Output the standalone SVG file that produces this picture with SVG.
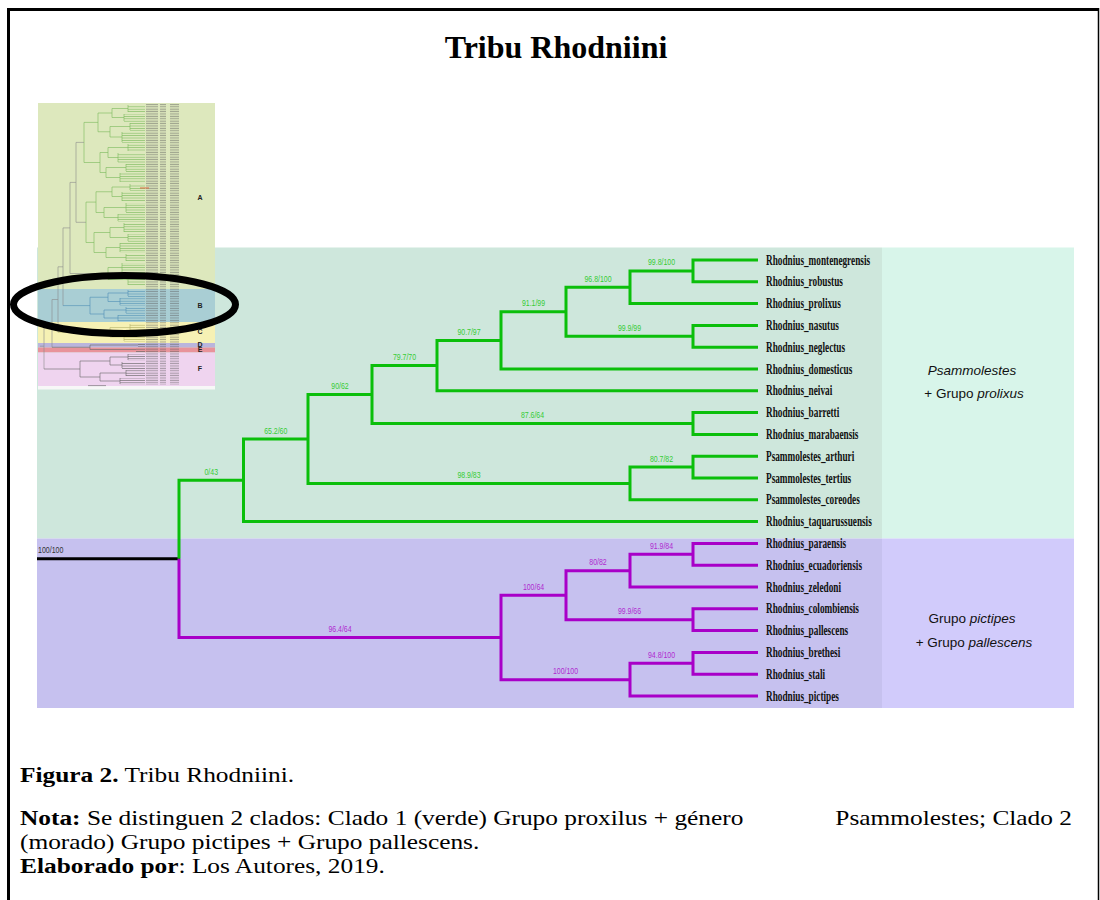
<svg xmlns="http://www.w3.org/2000/svg" width="1100" height="900" viewBox="0 0 1100 900">
  <style>
    .serif { font-family: "Liberation Serif", "Times New Roman", serif; }
    .sans { font-family: "Liberation Sans", Arial, sans-serif; }
    .br { fill: none; stroke-width: 3; stroke-linecap: butt; stroke-linejoin: miter; }
    .green { stroke: #0bbf0b; }
    .purple { stroke: #a800c8; }
    .root { stroke: #000; }
    .sup { font-family: "Liberation Sans", Arial, sans-serif; font-size: 9.5px; text-anchor: middle; }
    .sg { fill: #35cc35; }
    .sp { fill: #b02ad0; }
    .taxon { font-family: "Liberation Serif", "Times New Roman", serif; font-weight: bold; font-size: 14px; fill: #111; }
    .mini { fill: none; stroke-width: 0.6; }
    .mA { stroke: #78b85a; }
    .mB { stroke: #4f8fb5; }
    .mC { stroke: #b5b36a; }
    .mK { stroke: #666; }
    .mG { stroke: #8c8c8c; }
    .side { font-family: "Liberation Sans", Arial, sans-serif; font-size: 13.5px; text-anchor: middle; fill: #111; }
  </style>
  <defs>
    <pattern id="combA" width="4" height="2.4" patternUnits="userSpaceOnUse"><rect y="0.9" width="4" height="0.6" fill="#7dbb5e"/></pattern>
    <pattern id="combB" width="4" height="2.4" patternUnits="userSpaceOnUse"><rect y="0.9" width="4" height="0.6" fill="#5a98b8"/></pattern>
    <pattern id="combC" width="4" height="2.4" patternUnits="userSpaceOnUse"><rect y="0.9" width="4" height="0.6" fill="#b0ae60"/></pattern>
    <pattern id="combK" width="4" height="2.4" patternUnits="userSpaceOnUse"><rect y="0.9" width="4" height="0.6" fill="#666"/></pattern>
    <pattern id="lbl" width="34" height="2.4" patternUnits="userSpaceOnUse"><rect x="0" y="0.6" width="22" height="1.1" fill="#5a5a5a"/><rect x="24" y="0.6" width="6" height="1.1" fill="#5a5a5a"/></pattern>
  </defs>

  <rect width="1100" height="900" fill="#fff"/>

  <!-- title -->
  <text class="serif" x="556" y="58" font-size="32" font-weight="bold" text-anchor="middle">Tribu Rhodniini</text>

  <!-- clade backgrounds -->
  <g id="clade-backgrounds">
    <rect x="37" y="247.5" width="845" height="291" fill="#cee7dc"/>
    <rect x="882" y="247.5" width="192" height="291" fill="#d8f5ea"/>
    <rect x="37" y="538.5" width="845" height="169.5" fill="#c6c1ef"/>
    <rect x="882" y="538.5" width="192" height="169.5" fill="#d1cbfb"/>
  </g>

  <!-- overview tree of the whole family, clade bands A-F -->
  <g id="overview-tree">
    <rect x="38" y="103" width="177" height="186" fill="#dde8bd"/>
    <rect x="38" y="289" width="177" height="33" fill="#a9ced4"/>
    <rect x="38" y="322" width="177" height="21" fill="#f6f1b4"/>
    <rect x="38" y="343" width="177" height="4.5" fill="#bab5dc"/>
    <rect x="38" y="347.5" width="177" height="5" fill="#e8939a"/>
    <rect x="38" y="352.5" width="177" height="33.5" fill="#efd4ef"/>
    <rect x="38" y="386" width="177" height="3.5" fill="#f7f7f7"/>

    <!-- tip labels -->
    <rect x="146" y="104" width="33" height="281" fill="url(#lbl)" opacity="0.5"/>

    <!-- tip combs -->
    <g>
      <rect x="128" y="105" width="17" height="8" fill="url(#combA)"/>
      <rect x="124" y="114" width="21" height="8" fill="url(#combA)"/>
      <rect x="130" y="123" width="15" height="8" fill="url(#combA)"/>
      <rect x="122" y="132" width="23" height="11" fill="url(#combA)"/>
      <rect x="128" y="144" width="17" height="8" fill="url(#combA)"/>
      <rect x="118" y="153" width="27" height="10" fill="url(#combA)"/>
      <rect x="126" y="164" width="19" height="8" fill="url(#combA)"/>
      <rect x="120" y="173" width="25" height="10" fill="url(#combA)"/>
      <rect x="130" y="184" width="15" height="7" fill="url(#combA)"/>
      <rect x="122" y="192" width="23" height="10" fill="url(#combA)"/>
      <rect x="126" y="203" width="19" height="10" fill="url(#combA)"/>
      <rect x="118" y="214" width="27" height="8" fill="url(#combA)"/>
      <rect x="124" y="223" width="21" height="10" fill="url(#combA)"/>
      <rect x="128" y="234" width="17" height="8" fill="url(#combA)"/>
      <rect x="120" y="243" width="25" height="10" fill="url(#combA)"/>
      <rect x="126" y="254" width="19" height="8" fill="url(#combA)"/>
      <rect x="122" y="263" width="23" height="10" fill="url(#combA)"/>
      <rect x="128" y="274" width="17" height="12" fill="url(#combA)"/>
      <rect x="128" y="290" width="17" height="7" fill="url(#combB)"/>
      <rect x="120" y="298" width="25" height="8" fill="url(#combB)"/>
      <rect x="126" y="307" width="19" height="7" fill="url(#combB)"/>
      <rect x="118" y="315" width="27" height="7" fill="url(#combB)"/>
      <rect x="130" y="324" width="15" height="8" fill="url(#combC)"/>
      <rect x="124" y="333" width="21" height="9" fill="url(#combC)"/>
      <rect x="138" y="343.5" width="7" height="3.5" fill="url(#combK)"/>
      <rect x="136" y="348" width="9" height="4" fill="url(#combK)"/>
      <rect x="128" y="354" width="17" height="7" fill="url(#combK)"/>
      <rect x="122" y="362" width="23" height="7" fill="url(#combK)"/>
      <rect x="126" y="370" width="19" height="7" fill="url(#combK)"/>
      <rect x="120" y="378" width="25" height="7" fill="url(#combK)"/>
    </g>

    <!-- internal branches -->
    <path class="mini mA" d="M128 105V112M124 114V121M130 123V130M122 132V142M128 144V151M118 153V162M126 164V171M120 173V182M130 184V190M122 192V201M126 203V212M118 214V221M124 223V232M128 234V241M120 243V252M126 254V261M122 263V272M128 274V285
      M112 108.5V117.5M112 108.5H128M112 117.5H124
      M110 126.5V137M110 126.5H130M110 137H122
      M108 147.5V157.5M108 147.5H128M108 157.5H118
      M106 167.5V177.5M106 167.5H126M106 177.5H120
      M112 187V196.5M112 187H130M112 196.5H122
      M104 207.5V217.5M104 207.5H126M104 217.5H118
      M110 227.5V237.5M110 227.5H124M110 237.5H128
      M106 247.5V257.5M106 247.5H120M106 257.5H126
      M108 267.5V279.5M108 267.5H122M108 279.5H128
      M98 113V131.75M98 113H112M98 131.75H110
      M100 152.5V172.5M100 152.5H108M100 172.5H106
      M96 191.75V212.5M96 191.75H112M96 212.5H104
      M94 232.5V252.5M94 232.5H110M94 252.5H106
      M84 122.4V162.5M84 122.4H98M84 162.5H100
      M86 202.1V242.5M86 202.1H96M86 242.5H94"/>
    <path class="mini mG" d="M76 142.4V222.3M76 142.4H84M76 222.3H86
      M70 182.4V273.5M70 182.4H76M70 273.5H108
      M63 227.9V305.6M63 227.9H70
      M58 266.8V332.25M58 266.8H63
      M52 299.5V347.25M52 299.5H58
      M44 323.4V369M44 323.4H52M40 346.2H44"/>
    <path class="mini mB" d="M128 290V296M120 298V305M126 307V313M118 315V321
      M108 293V301.5M108 293H128M108 301.5H120
      M104 310V318M104 310H126M104 318H118
      M90 297.25V314M90 297.25H108M90 314H104M63 305.6H90"/>
    <path class="mini mC" d="M130 324V331M124 333V341M110 327.5V337M110 327.5H130M110 337H124M58 332.25H110"/>
    <path class="mini mK" d="M90 345V349.5M90 345H138M90 349.5H136M52 347.25H90
      M128 354V360M122 362V368M126 370V376M120 378V384
      M110 357V365M110 357H128M110 365H122
      M100 373V381M100 373H126M100 381H120
      M80 361V377M80 361H110M80 377H100M44 369H80
      M88 385.6H106"/>
    <path d="M140 188H149" stroke="#e0603a" stroke-width="0.9" fill="none"/>

    <g class="sans" font-size="7" font-weight="bold" fill="#222" text-anchor="middle">
      <text x="200" y="199.5">A</text>
      <text x="200" y="307.5">B</text>
      <text x="200" y="333.5">C</text>
      <text x="200" y="347">D</text>
      <text x="200" y="352">E</text>
      <text x="200" y="370.5">F</text>
    </g>

    <!-- highlight of clade B -->
    <ellipse cx="124.5" cy="304.5" rx="111" ry="29" fill="none" stroke="#000" stroke-width="7"/>
  </g>

  <!-- branches of the Rhodniini tree -->
  <g id="branches">
    <path class="br root" d="M37 558.86H180"/>
    <path class="br green" d="M179 558.86V480.3H243.5
      M243.5 480.3V439H308
      M243.5 480.3V521.6H758
      M308 439V394.55H372
      M308 439V483.45H630
      M372 394.55V365.6H437
      M372 394.55V423.5H693
      M437 365.6V340.39H501
      M437 365.6V390.8H758
      M501 340.39V311.78H566
      M501 340.39V369H758
      M566 311.78V287.25H630
      M566 311.78V336.3H693
      M630 287.25V270.9H693
      M630 287.25V303.6H758
      M693 270.9V260H758
      M693 270.9V281.8H758
      M693 336.3V325.4H758
      M693 336.3V347.2H758
      M693 423.5V412.6H758
      M693 423.5V434.4H758
      M630 483.45V467.1H693
      M630 483.45V499.8H758
      M693 467.1V456.2H758
      M693 467.1V478H758"/>
    <path class="br purple" d="M179 558.86V637.41H501
      M501 637.41V595.18H566
      M501 637.41V679.65H630
      M566 595.18V570.65H630
      M566 595.18V619.7H693
      M630 570.65V554.3H693
      M630 570.65V587H758
      M693 554.3V543.4H758
      M693 554.3V565.2H758
      M693 619.7V608.8H758
      M693 619.7V630.6H758
      M630 679.65V663.3H693
      M630 679.65V696H758
      M693 663.3V652.4H758
      M693 663.3V674.2H758"/>
  </g>

  <!-- support values (bootstrap / aLRT) -->
  <g id="support-values">
    <text class="sans" x="38" y="552.5" font-size="9.5" fill="#333" textLength="25.4" lengthAdjust="spacingAndGlyphs">100/100</text>
    <text class="sup sg" x="661.5" y="265.4" textLength="27" lengthAdjust="spacingAndGlyphs">99.8/100</text>
    <text class="sup sg" x="598" y="281.75" textLength="27" lengthAdjust="spacingAndGlyphs">96.8/100</text>
    <text class="sup sg" x="533.5" y="306.3" textLength="23.2" lengthAdjust="spacingAndGlyphs">91.1/99</text>
    <text class="sup sg" x="629.5" y="330.8" textLength="23.2" lengthAdjust="spacingAndGlyphs">99.9/99</text>
    <text class="sup sg" x="469" y="334.9" textLength="23.2" lengthAdjust="spacingAndGlyphs">90.7/97</text>
    <text class="sup sg" x="404.5" y="360.1" textLength="23.2" lengthAdjust="spacingAndGlyphs">79.7/70</text>
    <text class="sup sg" x="340" y="389" textLength="17.4" lengthAdjust="spacingAndGlyphs">90/62</text>
    <text class="sup sg" x="275.75" y="433.5" textLength="23.2" lengthAdjust="spacingAndGlyphs">65.2/60</text>
    <text class="sup sg" x="211.25" y="474.8" textLength="13.5" lengthAdjust="spacingAndGlyphs">0/43</text>
    <text class="sup sg" x="469" y="478" textLength="23.2" lengthAdjust="spacingAndGlyphs">98.9/83</text>
    <text class="sup sg" x="532.5" y="418" textLength="23.2" lengthAdjust="spacingAndGlyphs">87.6/64</text>
    <text class="sup sg" x="661.5" y="461.6" textLength="23.2" lengthAdjust="spacingAndGlyphs">80.7/82</text>
    <text class="sup sp" x="661.5" y="548.8" textLength="23.2" lengthAdjust="spacingAndGlyphs">91.9/84</text>
    <text class="sup sp" x="598" y="565.15" textLength="17.4" lengthAdjust="spacingAndGlyphs">80/82</text>
    <text class="sup sp" x="533.5" y="589.7" textLength="21.2" lengthAdjust="spacingAndGlyphs">100/64</text>
    <text class="sup sp" x="629.5" y="614.2" textLength="23.2" lengthAdjust="spacingAndGlyphs">99.9/66</text>
    <text class="sup sp" x="661.5" y="657.8" textLength="27" lengthAdjust="spacingAndGlyphs">94.8/100</text>
    <text class="sup sp" x="565.5" y="674.15" textLength="25.1" lengthAdjust="spacingAndGlyphs">100/100</text>
    <text class="sup sp" x="340" y="631.9" textLength="23.2" lengthAdjust="spacingAndGlyphs">96.4/64</text>
  </g>

  <!-- terminal taxa -->
  <g id="tip-montenegrensis"><text class="taxon" transform="translate(766 264.5) scale(0.66 1)">Rhodnius_montenegrensis</text></g>
  <g id="tip-robustus"><text class="taxon" transform="translate(766 286.3) scale(0.66 1)">Rhodnius_robustus</text></g>
  <g id="tip-prolixus"><text class="taxon" transform="translate(766 308.1) scale(0.66 1)">Rhodnius_prolixus</text></g>
  <g id="tip-nasutus"><text class="taxon" transform="translate(766 329.9) scale(0.66 1)">Rhodnius_nasutus</text></g>
  <g id="tip-neglectus"><text class="taxon" transform="translate(766 351.7) scale(0.66 1)">Rhodnius_neglectus</text></g>
  <g id="tip-domesticus"><text class="taxon" transform="translate(766 373.5) scale(0.66 1)">Rhodnius_domesticus</text></g>
  <g id="tip-neivai"><text class="taxon" transform="translate(766 395.3) scale(0.66 1)">Rhodnius_neivai</text></g>
  <g id="tip-barretti"><text class="taxon" transform="translate(766 417.1) scale(0.66 1)">Rhodnius_barretti</text></g>
  <g id="tip-marabaensis"><text class="taxon" transform="translate(766 438.9) scale(0.66 1)">Rhodnius_marabaensis</text></g>
  <g id="tip-arthuri"><text class="taxon" transform="translate(766 460.7) scale(0.66 1)">Psammolestes_arthuri</text></g>
  <g id="tip-tertius"><text class="taxon" transform="translate(766 482.5) scale(0.66 1)">Psammolestes_tertius</text></g>
  <g id="tip-coreodes"><text class="taxon" transform="translate(766 504.3) scale(0.66 1)">Psammolestes_coreodes</text></g>
  <g id="tip-taquarussuensis"><text class="taxon" transform="translate(766 526.1) scale(0.66 1)">Rhodnius_taquarussuensis</text></g>
  <g id="tip-paraensis"><text class="taxon" transform="translate(766 547.9) scale(0.66 1)">Rhodnius_paraensis</text></g>
  <g id="tip-ecuadoriensis"><text class="taxon" transform="translate(766 569.7) scale(0.66 1)">Rhodnius_ecuadoriensis</text></g>
  <g id="tip-zeledoni"><text class="taxon" transform="translate(766 591.5) scale(0.66 1)">Rhodnius_zeledoni</text></g>
  <g id="tip-colombiensis"><text class="taxon" transform="translate(766 613.3) scale(0.66 1)">Rhodnius_colombiensis</text></g>
  <g id="tip-pallescens"><text class="taxon" transform="translate(766 635.1) scale(0.66 1)">Rhodnius_pallescens</text></g>
  <g id="tip-brethesi"><text class="taxon" transform="translate(766 656.9) scale(0.66 1)">Rhodnius_brethesi</text></g>
  <g id="tip-stali"><text class="taxon" transform="translate(766 678.7) scale(0.66 1)">Rhodnius_stali</text></g>
  <g id="tip-pictipes"><text class="taxon" transform="translate(766 700.5) scale(0.66 1)">Rhodnius_pictipes</text></g>

  <!-- clade names -->
  <g id="clade-1-label">
    <text class="side" x="972" y="375"><tspan font-style="italic">Psammolestes</tspan></text>
    <text class="side" x="974" y="397.5">+ Grupo <tspan font-style="italic">prolixus</tspan></text>
  </g>
  <g id="clade-2-label">
    <text class="side" x="972" y="623">Grupo <tspan font-style="italic">pictipes</tspan></text>
    <text class="side" x="974" y="647">+ Grupo <tspan font-style="italic">pallescens</tspan></text>
  </g>

  <!-- caption -->
  <g id="caption" class="serif" font-size="21.5" fill="#000" transform="translate(20 0) scale(1.18 1)">
    <text x="0" y="782"><tspan font-weight="bold">Figura 2.</tspan> Tribu Rhodniini.</text>
    <text x="0" y="825"><tspan font-weight="bold">Nota:</tspan> Se distinguen 2 clados: Clado 1 (verde) Grupo proxilus + género</text>
    <text x="891.5" y="825" text-anchor="end">Psammolestes; Clado 2</text>
    <text x="0" y="849">(morado) Grupo pictipes + Grupo pallescens.</text>
    <text x="0" y="873"><tspan font-weight="bold">Elaborado por</tspan>: Los Autores, 2019.</text>
  </g>

  <!-- page frame -->
  <g id="frame" fill="none" stroke="#000">
    <path d="M7 9.5H1099" stroke-width="3"/>
    <path d="M8.5 8V900" stroke-width="3"/>
    <path d="M1098.5 8V900" stroke-width="1.5"/>
  </g>
</svg>
